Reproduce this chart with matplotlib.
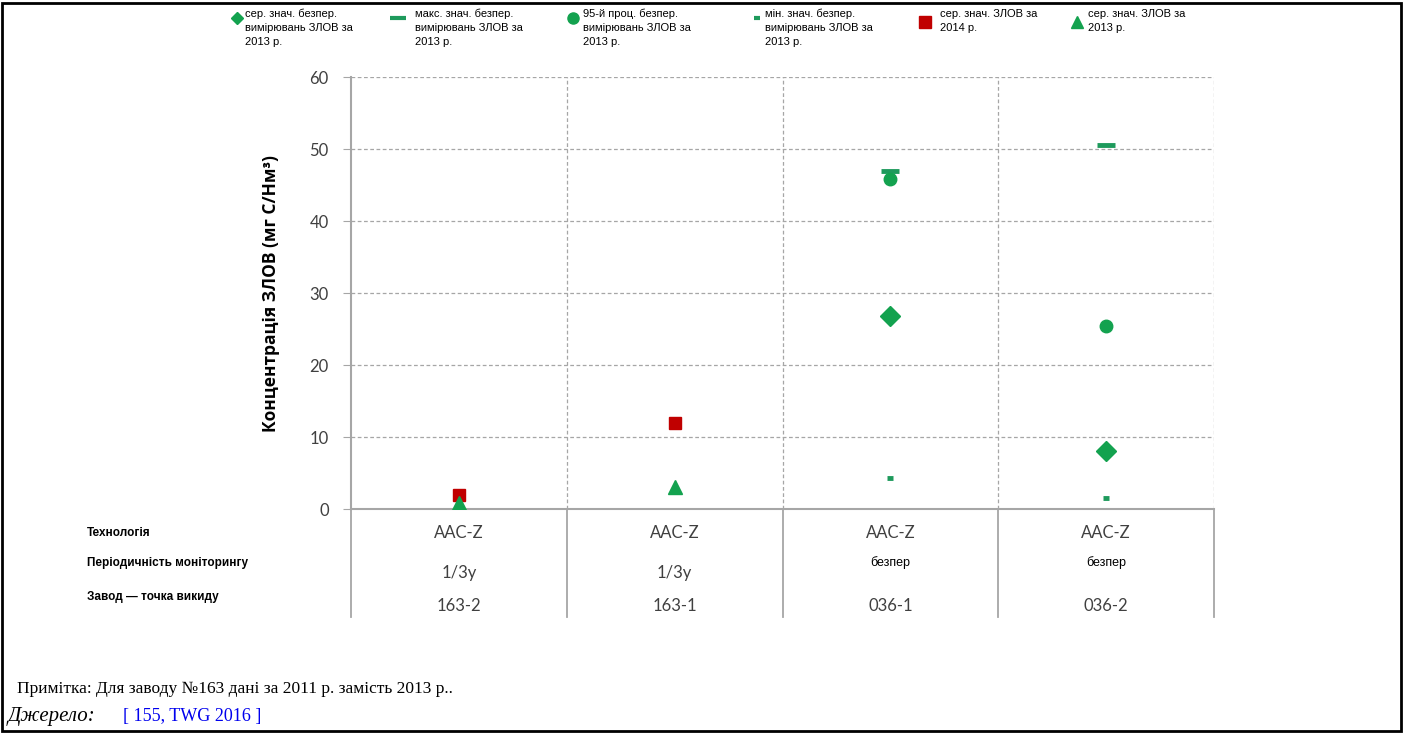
import numpy as np
import matplotlib.pyplot as plt
from matplotlib.patches import Rectangle

# data
plants = ["163-2", "163-1", "036-1", "036-2"]
technology = ["AAC-Z", "AAC-Z", "AAC-Z", "AAC-Z"]
frequency = ["1/3y", "1/3y", "безпер", "безпер"]

mean_cont_2013 = [np.nan, np.nan, 26.8, 8.1]
max_cont_2013 = [np.nan, np.nan, 47.0, 50.6]
p95_cont_2013 = [np.nan, np.nan, 45.8, 25.4]
min_cont_2013 = [np.nan, np.nan, 4.3, 1.5]
mean_2014 = [2.0, 12.0, np.nan, np.nan]
mean_2013 = [0.8, 3.0, np.nan, np.nan]

legend_labels = [
    "сер. знач. безпер.\nвимірювань ЗЛОВ за\n2013 р.",
    "макс. знач. безпер.\nвимірювань ЗЛОВ за\n2013 р.",
    "95-й проц. безпер.\nвимірювань ЗЛОВ за\n2013 р.",
    "мін. знач. безпер.\nвимірювань ЗЛОВ за\n2013 р.",
    "сер. знач. ЗЛОВ за\n2014 р.",
    "сер. знач. ЗЛОВ за\n2013 р.",
]

GREEN = "#13A24F"
DGREEN = "#1E9A5C"
RED = "#C00000"
GRID = "#A6A6A6"

W, H = 1403, 733
fig = plt.figure(figsize=(W / 100, H / 100), dpi=100)

def fx(px):
    return px / W

def fy(py):
    return 1 - py / H

ax = fig.add_axes([fx(351), fy(509), fx(1214) - fx(351), fy(77) - fy(509)])
x = np.arange(len(plants))

ax.plot(x, mean_cont_2013, "D", color=GREEN, ms=10, ls="none")
ax.plot(x, max_cont_2013, "_", color=DGREEN, ms=13, mew=3.5, ls="none")
ax.plot(x, p95_cont_2013, "o", color=GREEN, ms=9, ls="none")
ax.plot(x, min_cont_2013, "_", color=DGREEN, ms=5, mew=3.5, ls="none")
ax.plot(x, mean_2014, "s", color=RED, ms=8.5, ls="none")
ax.plot(x, mean_2013, "^", color=GREEN, ms=10, ls="none", zorder=3)

ax.set_xlim(-0.5, len(plants) - 0.5)
ax.set_ylim(0, 60)
ax.set_yticks(range(0, 61, 10))
ax.set_xticks([])
ax.tick_params(axis="y", length=6, color=GRID, pad=10, labelsize=12,
               labelcolor="#404040")
for lbl in ax.get_yticklabels():
    lbl.set_family("Lato")

for s in ["top", "right"]:
    ax.spines[s].set_visible(False)
for s in ["left", "bottom"]:
    ax.spines[s].set_color(GRID)
    ax.spines[s].set_linewidth(1.5)

for v in range(10, 61, 10):
    ax.axhline(v, color=GRID, lw=0.9, ls=(0, (3, 2)), zorder=0)
for b in np.arange(0.5, len(plants), 1.0):
    ax.axvline(b, color=GRID, lw=0.9, ls=(0, (3, 2)), zorder=0)

ax.set_ylabel("Концентрація ЗЛОВ (мг С/Нм³)", fontsize=12.5, fontweight="bold",
              labelpad=21, family="Open Sans")

# table under the x axis
for b in np.arange(-0.5, len(plants), 1.0):
    ax.plot([b, b], [0, -15.0], color=GRID, lw=1.3, clip_on=False)

for i, xi in enumerate(x):
    xd = ax.transData.transform((xi, 0))[0] / W
    fig.text(xd, fy(533), technology[i], ha="center", va="center",
             fontsize=12, family="Lato", color="#404040")
    if frequency[i] == "безпер":
        fig.text(xd, fy(563), frequency[i], ha="center", va="center",
                 fontsize=9, family="Liberation Sans")
    else:
        fig.text(xd, fy(573), frequency[i], ha="center", va="center",
                 fontsize=12, family="Lato", color="#404040")
    fig.text(xd, fy(606), plants[i], ha="center", va="center",
             fontsize=12, family="Lato", color="#404040")

row_labels = ["Технологія", "Періодичність моніторингу", "Завод — точка викиду"]
for lbl, py in zip(row_labels, [533, 563, 597]):
    fig.text(fx(87), fy(py), lbl, ha="left", va="center", fontsize=8.5,
             fontweight="bold", family="Liberation Sans")

# legend across the top
leg_marker_x = [237, 398, 573, 757, 925, 1077]
leg_text_x = [245, 415, 583, 765, 940, 1088]
leg_styles = [
    dict(marker="D", color=GREEN, ms=6),
    dict(marker="_", color=DGREEN, ms=11, mew=3),
    dict(marker="o", color=GREEN, ms=8),
    dict(marker="_", color=DGREEN, ms=5, mew=3),
    dict(marker="s", color=RED, ms=9),
    dict(marker="^", color=GREEN, ms=9),
]
lax = fig.add_axes([0, 0, 1, 1], facecolor="none")
lax.set_xlim(0, W)
lax.set_ylim(H, 0)
lax.axis("off")
for mx, tx, st, lab in zip(leg_marker_x, leg_text_x, leg_styles, legend_labels):
    my = 18 if lab.count("\n") == 2 else 22
    lax.plot([mx], [my], ls="none", **st)
    lax.text(tx, 9, lab, ha="left", va="top", fontsize=8,
             family="Liberation Sans", linespacing=1.5)

# notes at the bottom
fig.text(fx(17), fy(689), "Примітка: Для заводу №163 дані за 2011 р. замість 2013 р..",
         ha="left", va="center", fontsize=12.5, family="Liberation Serif")
fig.text(fx(8), fy(716), "Джерело:", ha="left", va="center", fontsize=15,
         family="Liberation Serif", style="italic")
fig.text(fx(123), fy(716), "[ 155, TWG 2016 ]", ha="left", va="center",
         fontsize=13, family="Liberation Serif", color="#0000EE")

fig.patches.append(Rectangle((fx(2), fy(731)), fx(1399), fy(3) - fy(731),
                             transform=fig.transFigure, fill=False,
                             edgecolor="black", lw=2))

fig.savefig("out.png", dpi=100)
